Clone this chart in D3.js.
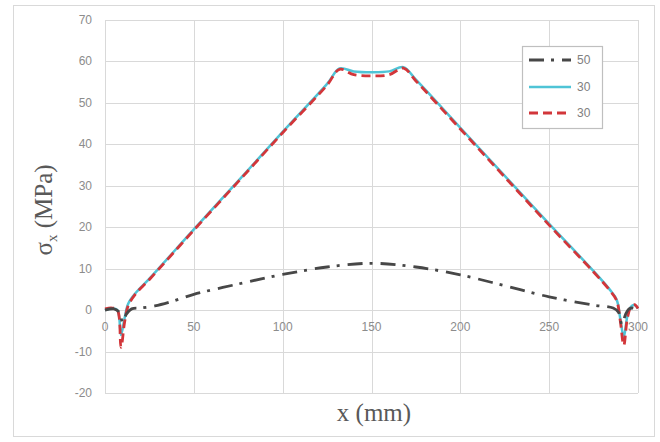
<!DOCTYPE html>
<html><head><meta charset="utf-8">
<script src="https://cdn.jsdelivr.net/npm/d3@7"></script>
<style>body{margin:0;background:#fff}svg{display:block}</style>
</head><body>
<svg id="c" width="660" height="442"></svg>
<script>
// ---- data ----
const xTicks = [0, 50, 100, 150, 200, 250, 300];
const yTicks = [70, 60, 50, 40, 30, 20, 10, 0, -10, -20];
const yTickLabels = ["70","60","50","40","30","20","10","0","-10","-20"];
const seriesNames = ["50", "30", "30"];

const xA = [0, 5, 8, 10, 12, 15, 20, 28, 37, 50, 75, 100, 125, 150, 175, 200, 225, 250, 275, 286, 289, 291, 293, 295, 297, 300];
const yA = [0, 0.3, -0.5, -3, -1, 0.3, 0.5, 1.0, 2, 3.8, 6.3, 8.6, 10.4, 11.3, 10.4, 8.5, 5.9, 3.2, 1.2, 0.5, -0.5, -3.5, -1, 0.3, 0.5, 0];

const xB = [0, 4, 7, 9, 11, 13, 17, 25, 50, 75, 100, 125, 132, 140, 150, 160, 168, 175, 200, 225, 250, 275, 284, 288, 290, 292, 294, 296, 298, 300];
const yB = [0, 0.4, 0, -6, -2, 1.5, 4, 7.6, 19.5, 31.2, 43, 54.6, 58.3, 57.6, 57.4, 57.6, 58.6, 55.6, 44, 32.4, 20.8, 9.4, 5, 2.5, -2, -6.5, -1.5, 0.8, 1.2, 0.4];

const xC = [0, 4, 7, 9, 11, 13, 17, 25, 50, 75, 100, 125, 132, 140, 150, 160, 168, 175, 200, 225, 250, 275, 284, 288, 290, 292, 294, 296, 298, 300];
const yC = [0.3, 0.5, 0, -9, -3, 1, 3.8, 7.4, 19.3, 31, 42.8, 54.3, 58.1, 56.8, 56.5, 56.8, 58.4, 55.3, 43.7, 32.1, 20.5, 9.2, 4.8, 2.3, -2.5, -8.5, -2, 0.8, 1.3, 0.4];

// ---- layout ----
const svg = d3.select("#c");
const x = d3.scaleLinear().domain([0, 300]).range([105, 638]);
const y = d3.scaleLinear().domain([-20, 70]).range([393, 20]);

// outer border
svg.append("rect").attr("x", 13.5).attr("y", 5.5).attr("width", 641).attr("height", 431)
  .attr("fill", "#fff").attr("stroke", "#d9d9d9").attr("stroke-width", 1);

// gridlines
const g = svg.append("g");
g.selectAll("line.h").data(yTicks).join("line")
  .attr("x1", x(0)).attr("x2", x(300))
  .attr("y1", d => Math.round(y(d)) + 0.5).attr("y2", d => Math.round(y(d)) + 0.5)
  .attr("stroke", "#d9d9d9").attr("stroke-width", 1);
g.selectAll("line.v").data(xTicks).join("line")
  .attr("y1", y(70)).attr("y2", y(-20))
  .attr("x1", d => Math.round(x(d)) + 0.5).attr("x2", d => Math.round(x(d)) + 0.5)
  .attr("stroke", "#d9d9d9").attr("stroke-width", 1);

// tick labels
svg.append("g").selectAll("text").data(yTicks).join("text")
  .attr("x", 92).attr("y", d => y(d) + 4)
  .attr("text-anchor", "end")
  .attr("font-family", "Liberation Sans, Arial, sans-serif").attr("font-size", 12)
  .attr("fill", "#8c8c8c")
  .text((d, i) => yTickLabels[i]);
svg.append("g").selectAll("text").data(xTicks).join("text")
  .attr("x", d => x(d)).attr("y", y(0) + 21)
  .attr("text-anchor", "middle")
  .attr("font-family", "Liberation Sans, Arial, sans-serif").attr("font-size", 12)
  .attr("fill", "#8c8c8c")
  .text(d => d);

// lines
const line = d3.line().x(d => x(d[0])).y(d => y(d[1])).curve(d3.curveCatmullRom.alpha(0.5));
const zip = (a, b) => a.map((v, i) => [v, b[i]]);

svg.append("path").datum(zip(xB, yB)).attr("d", line)
  .attr("fill", "none").attr("stroke", "#4fc4d6").attr("stroke-width", 2.5);
svg.append("path").datum(zip(xC, yC)).attr("d", line)
  .attr("fill", "none").attr("stroke", "#d2363a").attr("stroke-width", 2.8)
  .attr("stroke-dasharray", "9,5");
svg.append("path").datum(zip(xA, yA)).attr("d", line)
  .attr("fill", "none").attr("stroke", "#474747").attr("stroke-width", 2.8)
  .attr("stroke-dasharray", "15,7,3,8");

// legend
const lg = svg.append("g");
lg.append("rect").attr("x", 522.5).attr("y", 46.5).attr("width", 80).attr("height", 82)
  .attr("fill", "#fff").attr("stroke", "#bfbfbf").attr("stroke-width", 1.2);
const legStyles = [
  {c: "#474747", w: 2.8, dash: "15,7,3,8"},
  {c: "#4fc4d6", w: 2.5, dash: null},
  {c: "#d2363a", w: 2.8, dash: "9,5"}
];
const legY = [60, 87, 113];
seriesNames.forEach((n, i) => {
  lg.append("line").attr("x1", 529).attr("x2", 571).attr("y1", legY[i]).attr("y2", legY[i])
    .attr("stroke", legStyles[i].c).attr("stroke-width", legStyles[i].w)
    .attr("stroke-dasharray", legStyles[i].dash);
  lg.append("text").attr("x", 577).attr("y", legY[i] + 4)
    .attr("font-family", "Liberation Sans, Arial, sans-serif").attr("font-size", 12)
    .attr("fill", "#808080").text(n);
});

// axis titles
const yt = svg.append("text")
  .attr("transform", "translate(52,210) rotate(-90)")
  .attr("text-anchor", "middle")
  .attr("font-family", "Liberation Serif, Times New Roman, serif").attr("font-size", 25)
  .attr("fill", "#595959");
yt.append("tspan").text("σ");
yt.append("tspan").attr("font-size", 15).attr("dy", 5).text("x");
yt.append("tspan").attr("dy", -5).text(" (MPa)");

svg.append("text").attr("x", 374).attr("y", 421)
  .attr("text-anchor", "middle")
  .attr("font-family", "Liberation Serif, Times New Roman, serif").attr("font-size", 25)
  .attr("fill", "#595959").text("x (mm)");
</script>
</body></html>
